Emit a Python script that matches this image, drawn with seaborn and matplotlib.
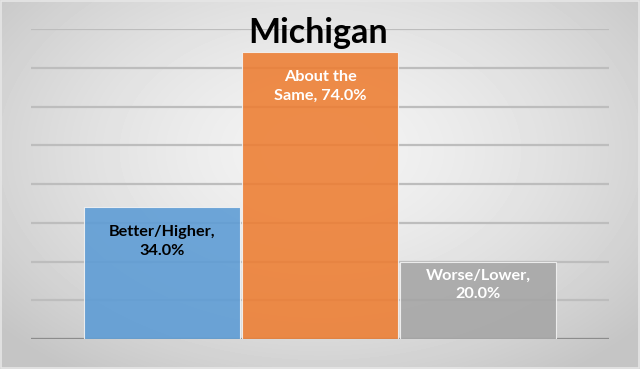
import numpy as np
import pandas as pd
import matplotlib
matplotlib.use("Agg")
import matplotlib.pyplot as plt
import seaborn as sns

categories = ["Better/Higher", "About the Same", "Worse/Lower"]
values = [34.0, 74.0, 20.0]
colors = ["#5B9BD5", "#ED7D31", "#A5A5A5"]
label_colors = ["black", "white", "white"]
title = "Michigan"

df = pd.DataFrame({"cat": categories, "val": values})

sns.set_theme(style="white")
plt.rcParams['font.family'] = ['Lato', 'DejaVu Sans']

fig = plt.figure(figsize=(6.4, 3.69), dpi=100)

# background radial gradient
bg = fig.add_axes([0, 0, 1, 1], zorder=-10)
yy, xx = np.mgrid[0:369, 0:640]
r = np.sqrt(((xx - 320) / 400.0) ** 2 + ((yy - 150) / 260.0) ** 2)
shade = np.clip(0.955 - 0.17 * r ** 1.5, 0.77, 1.0)
bg.imshow(shade, cmap="gray", vmin=0, vmax=1, aspect="auto", extent=[0, 1, 0, 1])
bg.set_xlim(0, 1); bg.set_ylim(0, 1)
bg.axis("off")
bg.add_patch(plt.Rectangle((0.001, 0.002), 0.997, 0.994, fill=False,
                           edgecolor="#e6e6e6", lw=1.2, transform=bg.transAxes))

ax = fig.add_axes([31/640, 1-339/369, 578/640, 310/369])
ax.patch.set_alpha(0)
sns.barplot(data=df, x="cat", y="val", hue="cat", palette=colors, dodge=False,
            saturation=1, width=0.99, legend=False, ax=ax, alpha=0.88,
            edgecolor="#f4f4f4", linewidth=0.8, zorder=3)
ax.set_ylim(0, 80)
ax.set_xlim(-0.829, 2.829)
ax.set_yticks(np.arange(0, 81, 10))
ax.yaxis.grid(True, color="#bdbdbd", lw=1.6, zorder=0)
ax.set_axisbelow(True)
ax.axhline(0, color="#8c8c8c", lw=1.6, zorder=1)
for s in ax.spines.values():
    s.set_visible(False)
ax.set_xticks([])
ax.tick_params(left=False, labelleft=False, bottom=False, labelbottom=False)
ax.set_xlabel(""); ax.set_ylabel("")

offsets = [18, 18, 7]
for i, (c, v) in enumerate(zip(categories, values)):
    if c == "About the Same":
        txt = "About the\nSame, %.1f%%" % v
    else:
        txt = "%s,\n%.1f%%" % (c, v)
    ax.annotate(txt, xy=(i, v), xytext=(0, -offsets[i] * 0.72),
                textcoords="offset points", ha="center", va="top",
                fontsize=11.7, fontweight="bold", color=label_colors[i],
                linespacing=1.4, zorder=5)

fig.text(318/640, 1-33/369, title, ha="center", va="center",
         fontsize=24.5, fontweight="bold", color="black", zorder=6)

fig.savefig("out.png", dpi=100)
